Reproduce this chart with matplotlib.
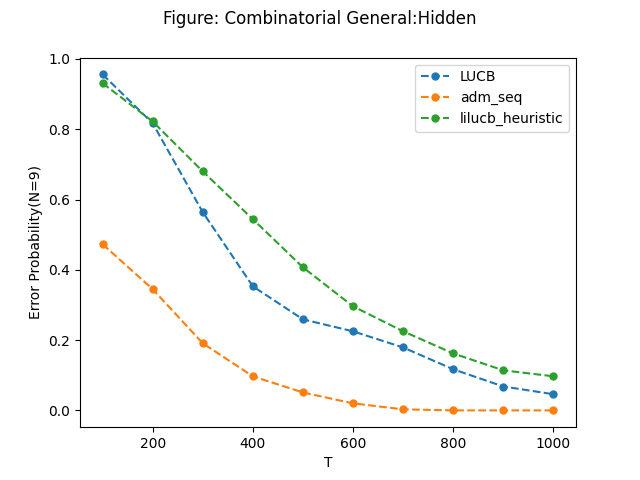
import numpy as np
from matplotlib import pyplot as plt

T = [100, 200, 300, 400, 500, 600, 700, 800, 900, 1000]
lucb = [0.956, 0.817, 0.564, 0.353, 0.259, 0.225, 0.179, 0.117, 0.068, 0.046]
adm_seq = [0.473, 0.345, 0.191, 0.097, 0.051, 0.020, 0.003, 0.0, 0.0, 0.0]
lilucb_heuristic = [0.931, 0.822, 0.680, 0.544, 0.407, 0.296, 0.225, 0.162, 0.114, 0.097]

fig = plt.figure(figsize=(6.4, 4.8), dpi=100)
plt.plot(T, lucb, 'o--', markersize=5, label='LUCB')
plt.plot(T, adm_seq, 'o--', markersize=5, label='adm_seq')
plt.plot(T, lilucb_heuristic, 'o--', markersize=5, label='lilucb_heuristic')
plt.xlabel('T')
plt.ylabel('Error Probability(N=9)')
plt.suptitle('Figure: Combinatorial General:Hidden')
plt.legend()
plt.savefig('out.png')
